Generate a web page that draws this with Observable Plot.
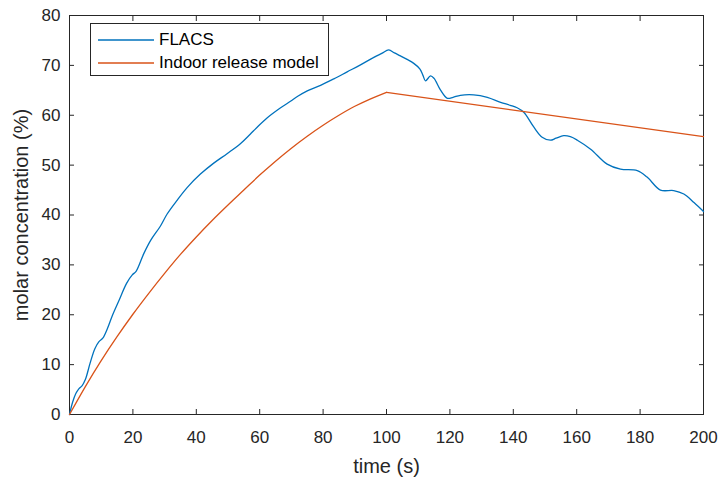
<!DOCTYPE html>
<html>
<head>
<meta charset="utf-8">
<script src="https://cdn.jsdelivr.net/npm/d3@7"></script>
<script src="https://cdn.jsdelivr.net/npm/@observablehq/plot@0.6"></script>
<style>
  html, body { margin: 0; padding: 0; background: #fff; }
  #wrap { position: relative; width: 724px; height: 481px; font-family: "Liberation Sans", Arial, Helvetica, sans-serif; }
  #legend {
    position: absolute; left: 90px; top: 23px; width: 237px; height: 51px;
    border: 1px solid #262626; background: #fff; box-sizing: content-box;
  }
  #legend .row { position: absolute; left: 0; height: 20px; display: flex; align-items: center; }
  #legend .row span { font-size: 17px; color: #000; margin-left: 5px; white-space: nowrap; }
</style>
</head>
<body>
<div id="wrap"></div>
<script>
// FLACS simulation: time (s) and molar concentration (%)
const flacsTime = [0, 1, 2, 3, 4, 5, 6.5, 8, 9.3, 10.5, 12, 13.5, 15.5, 18, 19.8, 21, 23.4, 25.6, 28.7, 30.8,
  34, 37.1, 41.3, 45.5, 49.7, 53.9, 57, 59.2, 62.4, 66.6, 69.7, 72, 75, 79.2, 83.4, 87.6, 91.8, 96, 98.5, 100.7,
  102.5, 104.4, 106.5, 108.6, 110.5, 111.5, 112.3, 113.9, 115, 117, 119.2, 121, 123.3, 127.5, 131.8, 136, 139,
  141.2, 143.3, 146.5, 149.1, 151.7, 153.5, 155.9, 158, 160.2, 164.4, 169.6, 173.8, 179.1, 182.2, 186.4, 190.6,
  193.8, 197, 200];
const flacsConc = [0, 2.5, 4.2, 5.2, 5.8, 7.0, 10.3, 13.2, 14.6, 15.3, 17.3, 19.8, 22.7, 26.3, 28.0, 28.7, 32.2, 34.9, 37.8, 40.2,
  43.0, 45.5, 48.2, 50.4, 52.3, 54.3, 56.2, 57.6, 59.5, 61.5, 62.8, 63.8, 64.9, 66.0, 67.3, 68.7, 70.1, 71.6, 72.4, 73.1,
  72.5, 71.9, 71.2, 70.4, 69.3, 68.0, 66.9, 67.9, 67.4, 65.1, 63.4, 63.6, 64.0, 64.1, 63.6, 62.6, 62.0,
  61.5, 60.6, 57.6, 55.6, 55.0, 55.4, 55.9, 55.7, 55.0, 53.2, 50.2, 49.2, 48.9, 47.6, 45.0, 44.9,
  44.2, 42.5, 40.7];

// Indoor release model: time (s) and molar concentration (%)
const modelTime = [0, 5, 10, 15, 20, 25, 30, 35, 40, 45, 50, 55, 60, 65, 70, 75, 80, 85, 90, 95, 100, 200];
const modelConc = [0, 5.6, 10.8, 15.6, 20.1, 24.3, 28.3, 32.1, 35.6, 38.9, 42.0, 45.0, 48.0, 50.8, 53.4, 55.8, 58.0, 60.0, 61.8, 63.3, 64.6, 55.7];
const releaseEnd = 100; // release stops here; afterwards the model decays linearly

const xTicks = [0, 20, 40, 60, 80, 100, 120, 140, 160, 180, 200];
const yTicks = [0, 10, 20, 30, 40, 50, 60, 70, 80];

const seriesNames = ["FLACS", "Indoor release model"];
const seriesColors = ["#0072BD", "#D95319"];

const flacsRows = flacsTime.map((t, i) => ({series: seriesNames[0], t, c: flacsConc[i]}));
const modelRows = modelTime.map((t, i) => ({series: seriesNames[1], t, c: modelConc[i]}));

const ink = "#262626";
const font = '"Liberation Sans", Arial, Helvetica, sans-serif';

const chart = Plot.plot({
  width: 724,
  height: 481,
  marginLeft: 69,
  marginRight: 21,
  marginTop: 15,
  marginBottom: 67,
  style: {fontFamily: font, background: "#fff", color: ink, overflow: "visible"},
  x: {domain: [0, 200]},
  y: {domain: [0, 80]},
  color: {domain: seriesNames, range: seriesColors},
  marks: [
    Plot.frame({stroke: ink, strokeWidth: 1}),
    Plot.axisX({anchor: "bottom", ticks: xTicks, tickSize: -5, tickPadding: 21, fontSize: 17,
      label: "time (s)", labelAnchor: "center", labelArrow: "none", labelOffset: 58, stroke: ink}),
    Plot.axisX({anchor: "top", ticks: xTicks, tickSize: -5, tickFormat: () => "", label: null, stroke: ink}),
    Plot.axisY({anchor: "left", ticks: yTicks, tickSize: -5, tickPadding: 14, fontSize: 17,
      label: "molar concentration (%)", labelAnchor: "center", labelArrow: "none", labelOffset: 56, stroke: ink}),
    Plot.axisY({anchor: "right", ticks: yTicks, tickSize: -5, tickFormat: () => "", label: null, stroke: ink}),
    Plot.line(flacsRows, {x: "t", y: "c", stroke: "series", strokeWidth: 1.3, curve: "catmull-rom"}),
    Plot.line(modelRows.filter(d => d.t <= releaseEnd), {x: "t", y: "c", stroke: "series", strokeWidth: 1.3, curve: "catmull-rom"}),
    Plot.line(modelRows.filter(d => d.t >= releaseEnd), {x: "t", y: "c", stroke: "series", strokeWidth: 1.3})
  ]
});

// the mirrored top/right axes carry ticks only
d3.select(chart).selectAll("text").filter(function() { return this.textContent.trim() === ""; }).remove();
// axis titles are a bit larger than tick labels
d3.select(chart).selectAll("[aria-label$='axis label'] text").style("font-size", "20px");

const wrap = document.getElementById("wrap");
wrap.appendChild(chart);

// legend box with line samples
const legend = document.createElement("div");
legend.id = "legend";
seriesNames.forEach((name, i) => {
  const row = document.createElement("div");
  row.className = "row";
  row.style.top = (6 + i * 23) + "px";
  row.innerHTML = `<svg width="63" height="20"><line x1="7" x2="63" y1="10" y2="10" stroke="${seriesColors[i]}" stroke-width="1.3"/></svg><span>${name}</span>`;
  legend.appendChild(row);
});
wrap.appendChild(legend);
</script>
</body>
</html>
